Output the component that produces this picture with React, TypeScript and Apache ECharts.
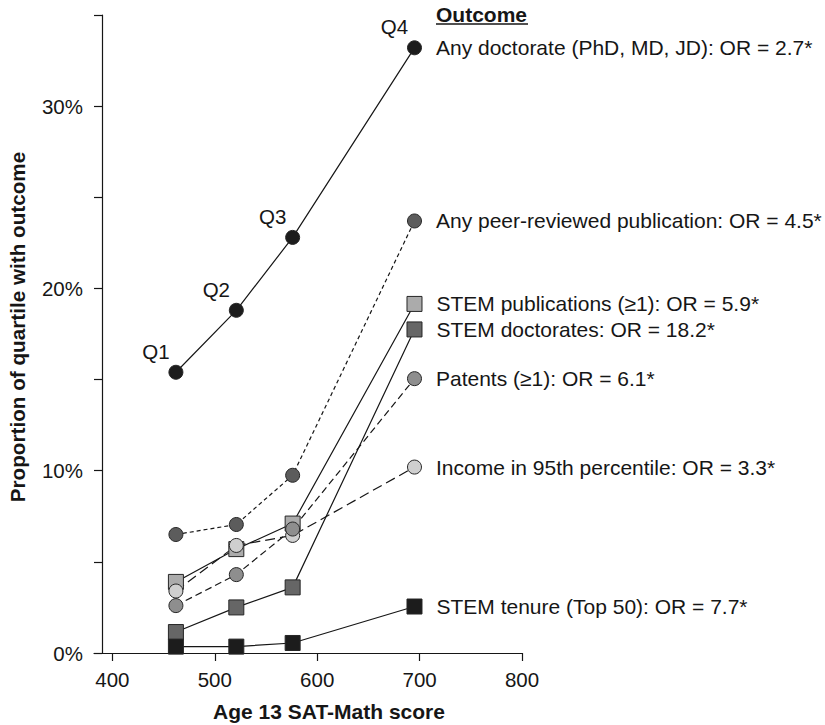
import React, { useEffect, useRef } from "react";
import * as echarts from "echarts";

const quartiles = ["Q1", "Q2", "Q3", "Q4"];
const satMath = [462, 521, 576, 695];
const xTickValues = [400, 500, 600, 700, 800];

const anyDoctorate = [15.4, 18.8, 22.8, 33.2];
const peerReviewed = [6.5, 7.05, 9.75, 23.7];
const stemDoctorates = [1.15, 2.5, 3.6, 17.75];
const stemTenure = [0.35, 0.35, 0.55, 2.55];
const stemPublications = [3.9, 5.7, 7.1, 19.15];
const income95 = [3.4, 5.9, 6.45, 10.2];
const patents = [2.6, 4.3, 6.8, 15.05];

const outcomeNames = {
  anyDoctorate: "Any doctorate (PhD, MD, JD): OR = 2.7*",
  peerReviewed: "Any peer-reviewed publication: OR = 4.5*",
  stemPublications: "STEM publications (\u22651): OR = 5.9*",
  stemDoctorates: "STEM doctorates: OR = 18.2*",
  patents: "Patents (\u22651): OR = 6.1*",
  income95: "Income in 95th percentile: OR = 3.3*",
  stemTenure: "STEM tenure (Top 50): OR = 7.7*",
};

const FONT = '"Liberation Sans", Arial, Helvetica, sans-serif';
const INK = "#161616";

type SeriesDef = {
  name: string;
  values: number[];
  symbol: string;
  size: number;
  fill: string;
  dash: number[] | "solid";
};

const seriesDefs: SeriesDef[] = [
  { name: outcomeNames.anyDoctorate, values: anyDoctorate, symbol: "circle", size: 14, fill: "#1c1c1c", dash: "solid" },
  { name: outcomeNames.peerReviewed, values: peerReviewed, symbol: "circle", size: 14, fill: "#5c5c5c", dash: [4, 3] },
  { name: outcomeNames.stemDoctorates, values: stemDoctorates, symbol: "rect", size: 15, fill: "#666666", dash: "solid" },
  { name: outcomeNames.stemTenure, values: stemTenure, symbol: "rect", size: 15, fill: "#1c1c1c", dash: "solid" },
  { name: outcomeNames.stemPublications, values: stemPublications, symbol: "rect", size: 15, fill: "#ababab", dash: "solid" },
  { name: outcomeNames.income95, values: income95, symbol: "circle", size: 14, fill: "#cfcfcf", dash: [10, 5] },
  { name: outcomeNames.patents, values: patents, symbol: "circle", size: 14, fill: "#8e8e8e", dash: [7, 4] },
];

export default function App() {
  const ref = useRef<HTMLDivElement>(null);

  useEffect(() => {
    if (!ref.current) return;
    const chart = echarts.init(ref.current, undefined, { renderer: "svg" });

    const lineSeries = seriesDefs.map((d) => ({
      type: "line",
      name: d.name,
      clip: false,
      symbol: d.symbol,
      symbolSize: d.size,
      showAllSymbol: true,
      z: 2,
      lineStyle: { color: INK, width: 1.2, type: d.dash },
      itemStyle: { color: d.fill, borderColor: "#262626", borderWidth: 1 },
      data: d.values.map((v, i) => {
        const point: any = { value: [satMath[i], v] };
        if (i === d.values.length - 1) {
          point.label = {
            show: true,
            position: "right",
            distance: 14,
            formatter: d.name,
            color: INK,
            fontSize: 21,
            fontFamily: FONT,
          };
        }
        return point;
      }),
    }));

    const quartileSeries = {
      type: "scatter",
      name: "quartiles",
      silent: true,
      clip: false,
      symbolSize: 1,
      itemStyle: { color: "rgba(255,255,255,0)", opacity: 1 },
      z: 3,
      label: {
        show: true,
        position: "top",
        distance: 0,
        offset: [-20, -10],
        color: INK,
        opacity: 1,
        textBorderWidth: 0,
        fontSize: 20.5,
        fontFamily: FONT,
        formatter: (p: any) => quartiles[p.dataIndex],
      },
      data: anyDoctorate.map((v, i) => [satMath[i], v]),
    };

    chart.setOption({
      animation: false,
      backgroundColor: "#ffffff",
      textStyle: { fontFamily: FONT },
      grid: { left: 94, right: 303, top: 15, bottom: 72 },
      xAxis: {
        type: "value",
        min: 382,
        max: 800,
        splitLine: { show: false },
        axisLine: { show: true, onZero: false, lineStyle: { color: INK, width: 1.2 } },
        axisTick: { show: true, length: 8, customValues: xTickValues, lineStyle: { color: INK, width: 1.2 } },
        axisLabel: {
          customValues: xTickValues,
          margin: 16,
          color: INK,
          fontSize: 20.5,
          fontFamily: FONT,
        },
      },
      yAxis: {
        type: "value",
        min: 0,
        max: 35,
        interval: 5,
        offset: -8,
        splitLine: { show: false },
        axisLine: { show: true, onZero: false, lineStyle: { color: INK, width: 1.2 } },
        axisTick: { show: true, length: 8, lineStyle: { color: INK, width: 1.2 } },
        axisLabel: {
          margin: 19,
          color: INK,
          fontSize: 20.5,
          fontFamily: FONT,
          formatter: (v: number) => (v % 10 === 0 ? `${v}%` : ""),
        },
      },
      graphic: [
        {
          type: "text",
          left: 436,
          top: 4,
          style: { text: "Outcome", fill: INK, font: `bold 21px ${FONT}` },
        },
        {
          type: "line",
          shape: { x1: 436, y1: 24, x2: 528, y2: 24 },
          style: { stroke: INK, lineWidth: 1.6 },
        },
        {
          type: "text",
          x: 329,
          y: 711,
          style: {
            text: "Age 13 SAT-Math score",
            fill: INK,
            font: `bold 21px ${FONT}`,
            align: "center",
            verticalAlign: "middle",
          },
        },
        {
          type: "text",
          x: 17,
          y: 327,
          rotation: Math.PI / 2,
          style: {
            text: "Proportion of quartile with outcome",
            fill: INK,
            font: `bold 20.7px ${FONT}`,
            align: "center",
            verticalAlign: "middle",
          },
        },
      ],
      series: [...lineSeries, quartileSeries],
    });

    return () => chart.dispose();
  }, []);

  return (
    <div
      ref={ref}
      style={{ position: "fixed", left: 0, top: 0, width: 825, height: 725, background: "#fff" }}
    />
  );
}
